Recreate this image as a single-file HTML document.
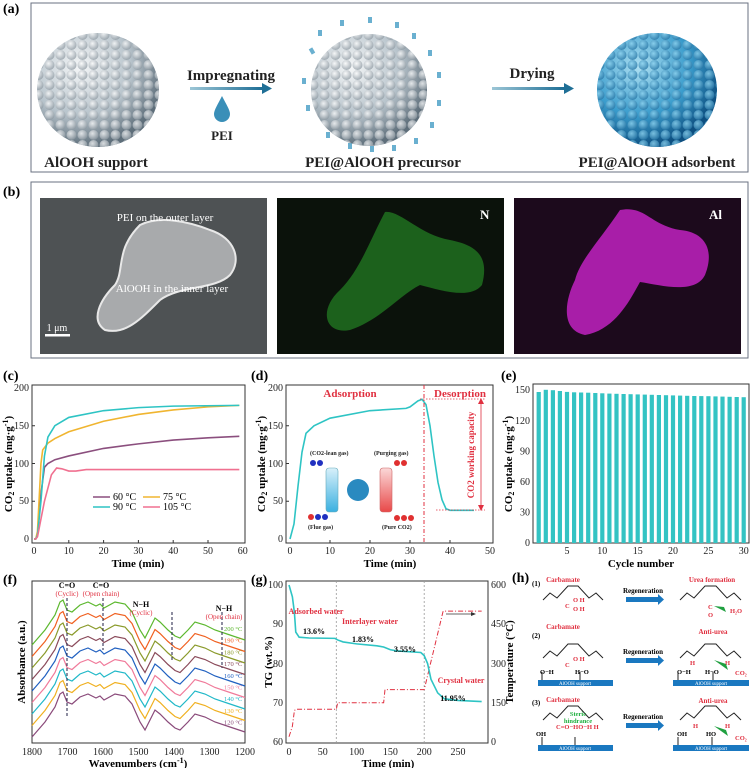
<!DOCTYPE html>
<html><head><meta charset="utf-8"><style>
body{margin:0;background:#fff;width:752px;height:768px;overflow:hidden}
svg{display:block;font-family:"Liberation Serif",serif}
.t{font-size:10px;fill:#222}
.b{font-weight:bold}
</style></head><body>
<svg width="752" height="768" viewBox="0 0 752 768" xmlns="http://www.w3.org/2000/svg">
<defs>
<radialGradient id="gw" cx="35%" cy="30%" r="70%"><stop offset="0" stop-color="#f4f6f7"/><stop offset=".6" stop-color="#b8c4cc"/><stop offset="1" stop-color="#5e6e7a"/></radialGradient>
<radialGradient id="gb" cx="35%" cy="30%" r="70%"><stop offset="0" stop-color="#aee0f2"/><stop offset=".6" stop-color="#3a9ccc"/><stop offset="1" stop-color="#0d4f80"/></radialGradient>
<radialGradient id="bw" cx="40%" cy="35%" r="75%"><stop offset="0" stop-color="#ffffff"/><stop offset="1" stop-color="#7d8a94"/></radialGradient>
<radialGradient id="bb" cx="40%" cy="35%" r="75%"><stop offset="0" stop-color="#8fd4f0"/><stop offset="1" stop-color="#1a6a9c"/></radialGradient>
<pattern id="pw" width="11" height="10" patternUnits="userSpaceOnUse"><circle cx="5.5" cy="5" r="5" fill="url(#bw)"/></pattern>
<pattern id="pb" width="11" height="10" patternUnits="userSpaceOnUse"><circle cx="5.5" cy="5" r="5" fill="url(#bb)"/></pattern>
<linearGradient id="ar" x1="0" x2="1"><stop offset="0" stop-color="#9cc6d6"/><stop offset="1" stop-color="#1f6f96"/></linearGradient>
<linearGradient id="blue" x1="0" x2="0" y1="0" y2="1"><stop offset="0" stop-color="#d8f0fa"/><stop offset="1" stop-color="#3ab0e0"/></linearGradient>
<linearGradient id="red" x1="0" x2="0" y1="0" y2="1"><stop offset="0" stop-color="#fbd8d8"/><stop offset="1" stop-color="#e84848"/></linearGradient>
</defs>

<!-- (a) -->
<text x="3" y="13" font-size="14" class="b">(a)</text>
<rect x="31" y="3" width="717" height="169" fill="#fff" stroke="#6a7080" stroke-width="1"/>
<ellipse cx="98" cy="90" rx="61" ry="57" fill="url(#gw)"/>
<ellipse cx="98" cy="90" rx="61" ry="57" fill="url(#pw)" opacity=".75"/>
<g fill="#6ab0d0">
<rect x="310" y="48" width="4" height="6" transform="rotate(-30 312 51)"/><rect x="318" y="30" width="4" height="6"/><rect x="340" y="20" width="4" height="6"/><rect x="368" y="17" width="4" height="6"/><rect x="395" y="22" width="4" height="6"/><rect x="412" y="33" width="4" height="6"/><rect x="428" y="50" width="4" height="6"/><rect x="437" y="72" width="4" height="6"/><rect x="437" y="100" width="4" height="6"/><rect x="430" y="122" width="4" height="6"/><rect x="414" y="138" width="4" height="6"/><rect x="392" y="145" width="4" height="6"/><rect x="370" y="146" width="4" height="6"/><rect x="348" y="143" width="4" height="6"/><rect x="326" y="132" width="4" height="6"/><rect x="306" y="105" width="4" height="6"/><rect x="302" y="78" width="4" height="6"/>
</g>
<ellipse cx="369" cy="90" rx="58" ry="56" fill="url(#gw)"/>
<ellipse cx="369" cy="90" rx="58" ry="56" fill="url(#pw)" opacity=".75"/>
<ellipse cx="657" cy="90" rx="60" ry="57" fill="url(#gb)"/>
<ellipse cx="657" cy="90" rx="60" ry="57" fill="url(#pb)" opacity=".8"/>
<text x="231" y="80" font-size="15" class="b" text-anchor="middle" fill="#222">Impregnating</text>
<rect x="190" y="87" width="72" height="3" fill="url(#ar)"/><polygon points="262,83 272,88.5 262,94" fill="#1f6f96"/>
<path d="M222,96 C218,104 214,110 214,114 A8,8 0 0 0 230,114 C230,110 226,104 222,96Z" fill="#3a8fb8"/>
<text x="222" y="140" font-size="13" class="b" text-anchor="middle" fill="#222">PEI</text>
<text x="532" y="78" font-size="15" class="b" text-anchor="middle" fill="#222">Drying</text>
<rect x="492" y="87" width="72" height="3" fill="url(#ar)"/><polygon points="564,83 574,88.5 564,94" fill="#1f6f96"/>
<text x="96" y="167" font-size="15" class="b" text-anchor="middle" fill="#222">AlOOH support</text>
<text x="383" y="167" font-size="15" class="b" text-anchor="middle" fill="#222">PEI@AlOOH precursor</text>
<text x="657" y="167" font-size="15" class="b" text-anchor="middle" fill="#222">PEI@AlOOH adsorbent</text>

<!-- (b) -->
<text x="3" y="196" font-size="14" class="b">(b)</text>
<rect x="31" y="182" width="717" height="176" fill="#fff" stroke="#6a7080" stroke-width="1"/>
<rect x="40" y="198" width="227" height="156" fill="#4e5254"/>
<path d="M140,225 C160,215 190,222 210,230 C235,238 242,260 230,275 C215,290 180,285 160,300 C140,320 125,335 105,330 C90,320 100,300 115,285 C125,270 115,250 140,225Z" fill="#a8aaac" stroke="#e8e8e8" stroke-width="2"/>
<text x="165" y="221" font-size="11" fill="#fff" text-anchor="middle">PEI on the outer layer</text>
<text x="172" y="292" font-size="11" fill="#fff" text-anchor="middle">AlOOH in the inner layer</text>
<rect x="45" y="334" width="25" height="2.5" fill="#fff"/><text x="57" y="331" font-size="10" fill="#fff" text-anchor="middle">1 μm</text>
<rect x="277" y="198" width="227" height="156" fill="#0b120b"/>
<path d="M385,212 C400,210 420,235 450,240 C475,245 490,255 482,285 C470,300 440,290 420,285 C400,295 380,320 350,330 C325,335 318,310 340,290 C360,270 370,240 385,212Z" fill="#1e6a1e" opacity=".9"/>
<text x="480" y="219" font-size="13" class="b" fill="#fff">N</text>
<rect x="514" y="198" width="227" height="156" fill="#1c0a1c"/>
<path d="M620,210 C645,205 650,225 680,230 C705,232 715,250 705,275 C695,295 660,285 640,282 C630,300 615,330 585,335 C560,330 565,300 575,280 C580,260 600,240 620,210Z" fill="#b020b0" opacity=".95"/>
<text x="709" y="219" font-size="13" class="b" fill="#fff">Al</text>

<!-- (c) -->
<text x="3" y="380" font-size="14" class="b">(c)</text>
<rect x="32" y="385" width="213" height="158" fill="none" stroke="#333" stroke-width="1"/>
<g class="t" text-anchor="end">
<text x="29" y="542">0</text><text x="29" y="504">50</text><text x="29" y="467">100</text><text x="29" y="429">150</text><text x="29" y="391">200</text></g>
<g class="t" text-anchor="middle">
<text x="34" y="554">0</text><text x="68.8" y="554">10</text><text x="103.6" y="554">20</text><text x="138.4" y="554">30</text><text x="173.2" y="554">40</text><text x="208" y="554">50</text><text x="242.8" y="554">60</text></g>
<g stroke="#333"><path d="M68.8,543v-3M103.6,543v-3M138.4,543v-3M173.2,543v-3M208,543v-3M32,501.25h3M32,463.5h3M32,425.75h3"/></g>
<text x="138" y="567" font-size="11" class="b" text-anchor="middle">Time (min)</text>
<text transform="translate(12,464) rotate(-90)" font-size="11" class="b" text-anchor="middle">CO<tspan font-size="8" dy="2">2</tspan><tspan dy="-2"> uptake (mg·g</tspan><tspan font-size="8" dy="-4">-1</tspan><tspan dy="4">)</tspan></text>
<g transform="translate(34,539) scale(3.48,-0.755)" fill="none" stroke-width="1.6">
<path vector-effect="non-scaling-stroke" stroke="#8b4f7e" d="M0,0 L0.5,0 L1,5 L2,60 L3,95 L4,100 L6,105 L10,110 L20,120 L30,126 L40,131 L50,134 L59,136"/>
<path vector-effect="non-scaling-stroke" stroke="#f0b530" d="M0,0 L0.5,0 L1,10 L2,100 L2.5,118 L4,127 L6,133 L10,142 L20,156 L30,165 L40,171 L50,175 L59,177"/>
<path vector-effect="non-scaling-stroke" stroke="#2ec4c4" d="M0,0 L0.5,0 L1,5 L2,50 L3,110 L4,135 L6,150 L10,161 L20,170 L30,174 L40,176 L59,177"/>
<path vector-effect="non-scaling-stroke" stroke="#f07090" d="M0,0 L0.5,0 L1,3 L3,50 L5,85 L6.5,94 L8,93 L10,90 L12,90 L15,92 L20,92 L40,92 L59,92"/>
</g>
<g font-size="10">
<line x1="93" y1="497" x2="110" y2="497" stroke="#8b4f7e" stroke-width="1.6"/><text x="113" y="500">60 °C</text>
<line x1="143" y1="497" x2="160" y2="497" stroke="#f0b530" stroke-width="1.6"/><text x="163" y="500">75 °C</text>
<line x1="93" y1="507" x2="110" y2="507" stroke="#2ec4c4" stroke-width="1.6"/><text x="113" y="510">90 °C</text>
<line x1="143" y1="507" x2="160" y2="507" stroke="#f07090" stroke-width="1.6"/><text x="163" y="510">105 °C</text>
</g>

<!-- (d) -->
<text x="251" y="380" font-size="14" class="b">(d)</text>
<rect x="286" y="385" width="207" height="158" fill="none" stroke="#333"/>
<g class="t" text-anchor="end">
<text x="283" y="542">0</text><text x="283" y="504">50</text><text x="283" y="467">100</text><text x="283" y="429">150</text><text x="283" y="391">200</text></g>
<g class="t" text-anchor="middle">
<text x="290" y="554">0</text><text x="330" y="554">10</text><text x="370" y="554">20</text><text x="410" y="554">30</text><text x="450" y="554">40</text><text x="490" y="554">50</text></g>
<g stroke="#333"><path d="M330,543v-3M370,543v-3M410,543v-3M450,543v-3M286,501.25h3M286,463.5h3M286,425.75h3"/></g>
<text x="390" y="567" font-size="11" class="b" text-anchor="middle">Time (min)</text>
<text transform="translate(265,464) rotate(-90)" font-size="11" class="b" text-anchor="middle">CO<tspan font-size="8" dy="2">2</tspan><tspan dy="-2"> uptake (mg·g</tspan><tspan font-size="8" dy="-4">-1</tspan><tspan dy="4">)</tspan></text>
<g transform="translate(290,539) scale(4,-0.755)" fill="none">
<path vector-effect="non-scaling-stroke" stroke="#2ec4c4" stroke-width="1.6" d="M0,0 L1,20 L2,70 L3,115 L4,140 L6,150 L10,160 L20,170 L29,173 L30,175 L32,183 L33,185 L34,178 L35,150 L36,110 L37,75 L38,52 L39,40 L40,38 L46,38"/>
</g>
<line x1="424" y1="385" x2="424" y2="543" stroke="#e03040" stroke-dasharray="4,2,1,2" stroke-width="1"/>
<line x1="420" y1="399" x2="485" y2="399" stroke="#e03040" stroke-dasharray="1.5,1.5" stroke-width=".8"/>
<line x1="436" y1="510" x2="485" y2="510" stroke="#e03040" stroke-dasharray="1.5,1.5" stroke-width=".8"/>
<line x1="481" y1="402" x2="481" y2="507" stroke="#e03040" stroke-width=".8"/>
<polygon points="478,404 481,398 484,404" fill="#e03040"/><polygon points="478,505 481,511 484,505" fill="#e03040"/>
<text transform="translate(474,455) rotate(-90)" font-size="9" class="b" fill="#e03040" text-anchor="middle">CO2 working capacity</text>
<text x="350" y="397" font-size="11" class="b" fill="#e03040" text-anchor="middle">Adsorption</text>
<text x="460" y="397" font-size="11" class="b" fill="#e03040" text-anchor="middle">Desorption</text>
<g font-size="6" class="b" fill="#222">
<text x="310" y="455">(CO2-lean gas)</text><text x="374" y="455">(Purging gas)</text>
<text x="308" y="529">(Flue gas)</text><text x="382" y="529">(Pure CO2)</text></g>
<rect x="326" y="468" width="12" height="44" rx="3" fill="url(#blue)" stroke="#6ab" stroke-width=".6"/>
<rect x="380" y="468" width="12" height="44" rx="3" fill="url(#red)" stroke="#c66" stroke-width=".6"/>
<circle cx="358" cy="490" r="11" fill="#2a8ac0"/>
<circle cx="313" cy="463" r="3" fill="#2030c0"/><circle cx="320" cy="463" r="3" fill="#2030c0"/>
<circle cx="311" cy="517" r="3" fill="#e03030"/><circle cx="318" cy="517" r="3" fill="#2030c0"/><circle cx="325" cy="517" r="3" fill="#2030c0"/>
<circle cx="397" cy="463" r="3" fill="#e03030"/><circle cx="404" cy="463" r="3" fill="#e03030"/>
<circle cx="397" cy="518" r="3" fill="#e03030"/><circle cx="404" cy="518" r="3" fill="#e03030"/><circle cx="411" cy="518" r="3" fill="#e03030"/>

<!-- (e) -->
<text x="501" y="380" font-size="14" class="b">(e)</text>
<rect x="533" y="384" width="216" height="159" fill="none" stroke="#333"/>
<g fill="#33c3c3">
<rect x="536.6" y="392" width="4.2" height="151"/><rect x="543.7" y="389.8" width="4.2" height="153.2"/><rect x="550.8" y="390.2" width="4.2" height="152.8"/><rect x="557.8" y="391" width="4.2" height="152"/><rect x="564.9" y="391.9" width="4.2" height="151.1"/><rect x="572" y="392.3" width="4.2" height="150.7"/><rect x="579" y="392.5" width="4.2" height="150.5"/><rect x="586.1" y="392.7" width="4.2" height="150.3"/><rect x="593.2" y="393" width="4.2" height="150"/><rect x="600.2" y="393.3" width="4.2" height="149.7"/><rect x="607.3" y="393.6" width="4.2" height="149.4"/><rect x="614.4" y="393.8" width="4.2" height="149.2"/><rect x="621.5" y="394" width="4.2" height="149"/><rect x="628.5" y="394.2" width="4.2" height="148.8"/><rect x="635.6" y="394.4" width="4.2" height="148.6"/><rect x="642.7" y="394.6" width="4.2" height="148.4"/><rect x="649.7" y="394.8" width="4.2" height="148.2"/><rect x="656.8" y="395" width="4.2" height="148"/><rect x="663.9" y="395.2" width="4.2" height="147.8"/><rect x="670.9" y="395.4" width="4.2" height="147.6"/><rect x="678" y="395.6" width="4.2" height="147.4"/><rect x="685.1" y="395.8" width="4.2" height="147.2"/><rect x="692.2" y="396" width="4.2" height="147"/><rect x="699.2" y="396.1" width="4.2" height="146.9"/><rect x="706.3" y="396.2" width="4.2" height="146.8"/><rect x="713.4" y="396.4" width="4.2" height="146.6"/><rect x="720.4" y="396.6" width="4.2" height="146.4"/><rect x="727.5" y="396.8" width="4.2" height="146.2"/><rect x="734.6" y="397" width="4.2" height="146"/><rect x="741.6" y="397.2" width="4.2" height="145.8"/>
</g>
<g class="t" text-anchor="end">
<text x="530" y="546">0</text><text x="530" y="515.5">30</text><text x="530" y="485">60</text><text x="530" y="454.5">90</text><text x="530" y="424">120</text><text x="530" y="393">150</text></g>
<g class="t" text-anchor="middle">
<text x="567" y="554">5</text><text x="602.3" y="554">10</text><text x="637.7" y="554">15</text><text x="673" y="554">20</text><text x="708.4" y="554">25</text><text x="743.7" y="554">30</text></g>
<text x="641" y="567" font-size="11" class="b" text-anchor="middle">Cycle number</text>
<text transform="translate(512,464) rotate(-90)" font-size="11" class="b" text-anchor="middle">CO<tspan font-size="8" dy="2">2</tspan><tspan dy="-2"> uptake (mg·g</tspan><tspan font-size="8" dy="-4">-1</tspan><tspan dy="4">)</tspan></text>

<!-- (f) -->
<text x="3" y="584" font-size="14" class="b">(f)</text>
<rect x="32" y="581" width="213" height="162" fill="none" stroke="#333"/>
<defs><path id="sp" d="M32,45 L45,30 L55,15 L60,2 L63,0 L67,10 L72,12 L80,5 L88,2 L96,6 L100,4 L104,8 L115,2 L125,4 L132,12 L140,30 L145,38 L150,28 L155,18 L160,22 L168,30 L175,36 L180,38 L188,30 L195,22 L205,25 L215,30 L230,35 L245,40" fill="none" stroke-width="1.2"/></defs>
<use href="#sp" transform="translate(0,600)" stroke="#5cb82e"/>
<use href="#sp" transform="translate(0,611.5)" stroke="#f06020"/>
<use href="#sp" transform="translate(0,623)" stroke="#8a9a2a"/>
<use href="#sp" transform="translate(0,634.5)" stroke="#8a4a5a"/>
<use href="#sp" transform="translate(0,646)" stroke="#2060c0"/>
<use href="#sp" transform="translate(0,657.5)" stroke="#f07a9a"/>
<use href="#sp" transform="translate(0,669)" stroke="#20b8c8"/>
<use href="#sp" transform="translate(0,680.5)" stroke="#f0b020"/>
<use href="#sp" transform="translate(0,692)" stroke="#8a4a7a"/>
<g stroke="#335" stroke-dasharray="3,2" stroke-width="1.1"><path d="M67,598V716M103,598V650M172,612V660M222,612V668"/></g>
<g font-size="6.5" text-anchor="start">
<text x="224" y="631" fill="#5cb82e">200 °C</text><text x="224" y="642.7" fill="#f06020">190 °C</text><text x="224" y="654.4" fill="#8a9a2a">180 °C</text><text x="224" y="666" fill="#8a4a5a">170 °C</text><text x="224" y="677.8" fill="#2060c0">160 °C</text><text x="224" y="689.5" fill="#f07a9a">150 °C</text><text x="224" y="701.2" fill="#20b8c8">140 °C</text><text x="224" y="713" fill="#f0b020">130 °C</text><text x="224" y="724.6" fill="#8a4a7a">120 °C</text></g>
<g font-size="8" class="b" text-anchor="middle">
<text x="67" y="588">C=O</text><text x="101" y="588">C=O</text><text x="141" y="607">N−H</text><text x="224" y="611">N−H</text></g>
<g font-size="7" fill="#e03040" text-anchor="middle">
<text x="67" y="596">(Cyclic)</text><text x="101" y="596">(Open chain)</text><text x="141" y="615">(Cyclic)</text><text x="224" y="619">(Open chain)</text></g>
<g class="t" text-anchor="middle">
<text x="32" y="755">1800</text><text x="67.5" y="755">1700</text><text x="103" y="755">1600</text><text x="138.5" y="755">1500</text><text x="174" y="755">1400</text><text x="209.5" y="755">1300</text><text x="245" y="755">1200</text></g>
<text x="138" y="767" font-size="11" class="b" text-anchor="middle">Wavenumbers (cm<tspan font-size="8" dy="-4">-1</tspan><tspan dy="4">)</tspan></text>
<text transform="translate(25,662) rotate(-90)" font-size="11" class="b" text-anchor="middle">Absorbance (a.u.)</text>

<!-- (g) -->
<text x="251" y="584" font-size="14" class="b">(g)</text>
<rect x="286" y="581" width="202" height="162" fill="none" stroke="#333"/>
<line x1="336.3" y1="581" x2="336.3" y2="743" stroke="#999" stroke-dasharray="2,2" stroke-width=".8"/>
<line x1="424.2" y1="581" x2="424.2" y2="743" stroke="#999" stroke-dasharray="2,2" stroke-width=".8"/>
<g transform="translate(289,742) scale(0.676,-0.2617)" fill="none">
<path vector-effect="non-scaling-stroke" stroke="#e03040" stroke-dasharray="5,2,1,2" stroke-width="1" d="M0,20 L5,60 L8,120 L10,125 L70,125 L72,150 L140,150 L142,200 L200,200 L228,500 L285,500"/>
</g>
<g transform="translate(289,585) scale(0.676,-3.925) translate(0,-100)" fill="none">
<path vector-effect="non-scaling-stroke" stroke="#2ec4c4" stroke-width="1.6" d="M0,100 L5,97 L8,93 L10,88 L15,86.7 L30,86.5 L68,86.4 L72,86 L80,85.5 L100,85 L130,84.5 L140,84.2 L150,83.5 L160,83.2 L195,82.8 L200,82 L205,80 L210,76 L220,72.5 L230,71 L250,70.6 L285,70.3"/>
</g>
<line x1="446" y1="614" x2="471" y2="614" stroke="#333" stroke-width=".8"/><polygon points="471,612 476,614 471,616" fill="#333"/>
<g class="t" text-anchor="end">
<text x="283" y="745">60</text><text x="283" y="706">70</text><text x="283" y="667">80</text><text x="283" y="627">90</text><text x="283" y="588">100</text></g>
<g class="t" text-anchor="start">
<text x="491" y="745">0</text><text x="491" y="706">150</text><text x="491" y="667">300</text><text x="491" y="627">450</text><text x="491" y="588">600</text></g>
<g class="t" text-anchor="middle">
<text x="289" y="755">0</text><text x="322.8" y="755">50</text><text x="356.6" y="755">100</text><text x="390.4" y="755">150</text><text x="424.2" y="755">200</text><text x="458" y="755">250</text></g>
<text x="388" y="767" font-size="11" class="b" text-anchor="middle">Time (min)</text>
<text transform="translate(272,662) rotate(-90)" font-size="11" class="b" text-anchor="middle">TG (wt.%)</text>
<text transform="translate(513,662) rotate(-90)" font-size="11" class="b" text-anchor="middle">Temperature (°C)</text>
<g font-size="8" class="b" fill="#e03040" text-anchor="middle">
<text x="316" y="614">Adsorbed water</text><text x="370" y="624">Interlayer water</text><text x="461" y="683">Crystal water</text></g>
<g font-size="8" class="b" text-anchor="middle">
<text x="314" y="634">13.6%</text><text x="363" y="642">1.83%</text><text x="405" y="652">3.55%</text><text x="453" y="701">11.95%</text></g>

<!-- (h) -->
<text x="512" y="582" font-size="14" class="b">(h)</text>
<g font-size="7" class="b">
<text x="532" y="586">(1)</text><text x="532" y="638">(2)</text><text x="532" y="705">(3)</text></g>
<g font-size="7" class="b" fill="#e03040" text-anchor="middle">
<text x="563" y="582">Carbamate</text><text x="712" y="582">Urea formation</text>
<text x="563" y="629">Carbamate</text><text x="713" y="634">Anti-urea</text>
<text x="563" y="702">Carbamate</text><text x="713" y="703">Anti-urea</text></g>
<g font-size="7" class="b" text-anchor="middle">
<text x="643" y="593">Regeneration</text><text x="643" y="654">Regeneration</text><text x="643" y="719">Regeneration</text></g>
<g fill="#1a78c0">
<rect x="626" y="597" width="32" height="5"/><polygon points="658,594 664,599.5 658,605"/>
<rect x="626" y="658" width="32" height="5"/><polygon points="658,655 664,660.5 658,666"/>
<rect x="626" y="723" width="32" height="5"/><polygon points="658,720 664,725.5 658,731"/>
<rect x="538" y="680" width="75" height="6"/><rect x="673" y="680" width="76" height="6"/>
<rect x="538" y="745" width="75" height="6"/><rect x="673" y="745" width="76" height="6"/></g>
<g font-size="5" fill="#fff" text-anchor="middle"><text x="575" y="685">AlOOH support</text><text x="711" y="685">AlOOH support</text><text x="575" y="750">AlOOH support</text><text x="711" y="750">AlOOH support</text></g>
<g fill="none" stroke="#222" stroke-width="1">
<path d="M543,600 L550,593 L557,598 L568,586 L578,586 L589,598 L596,593 L603,600"/>
<path d="M680,600 L687,593 L694,598 L705,586 L716,586 L727,598 L734,593 L741,600"/>
<path d="M543,658 L550,651 L557,656 L568,644 L578,644 L589,656 L596,651 L603,658"/>
<path d="M680,658 L687,651 L694,656 L705,644 L716,644 L727,656 L734,651 L741,658"/>
<path d="M543,720 L550,713 L557,718 L568,706 L578,706 L589,718 L596,713 L603,720"/>
<path d="M680,720 L687,713 L694,718 L705,706 L716,706 L727,718 L734,713 L741,720"/>
<path d="M542,680v-8M580,680v-8M542,745v-8M575,745v-8M678,680v-8M713,680v-8M678,745v-8M712,745v-8"/>
</g>
<g font-size="6.5" class="b" fill="#e03040">
<text x="573" y="602">O H</text><text x="565" y="608">C</text><text x="573" y="611">O H</text>
<text x="708" y="609">C</text><text x="708" y="617">O</text><text x="730" y="613">H₂O</text>
<text x="573" y="661">O H</text><text x="565" y="667">C</text><text x="690" y="665">H</text><text x="725" y="665">H</text><text x="735" y="675">CO₂</text>
<text x="556" y="729">C=O−HO−H H</text><text x="693" y="728">H</text><text x="725" y="728">H</text><text x="735" y="740">CO₂</text></g>
<g font-size="6.5" class="b"><text x="540" y="674">O−H</text><text x="575" y="674">H−O</text><text x="677" y="674">O−H</text><text x="705" y="674">H−O</text>
<text x="536" y="736">OH</text><text x="677" y="736">OH</text><text x="706" y="736">HO</text></g>
<g font-size="6.5" class="b" fill="#20b040" text-anchor="middle"><text x="578" y="716">Steric</text><text x="578" y="723">hindrance</text></g>
<g fill="#20a040"><polygon points="714,606 726,612 724,607"/><polygon points="714,660 728,670 726,664"/><polygon points="714,726 728,736 726,730"/></g>
</svg>
</body></html>
